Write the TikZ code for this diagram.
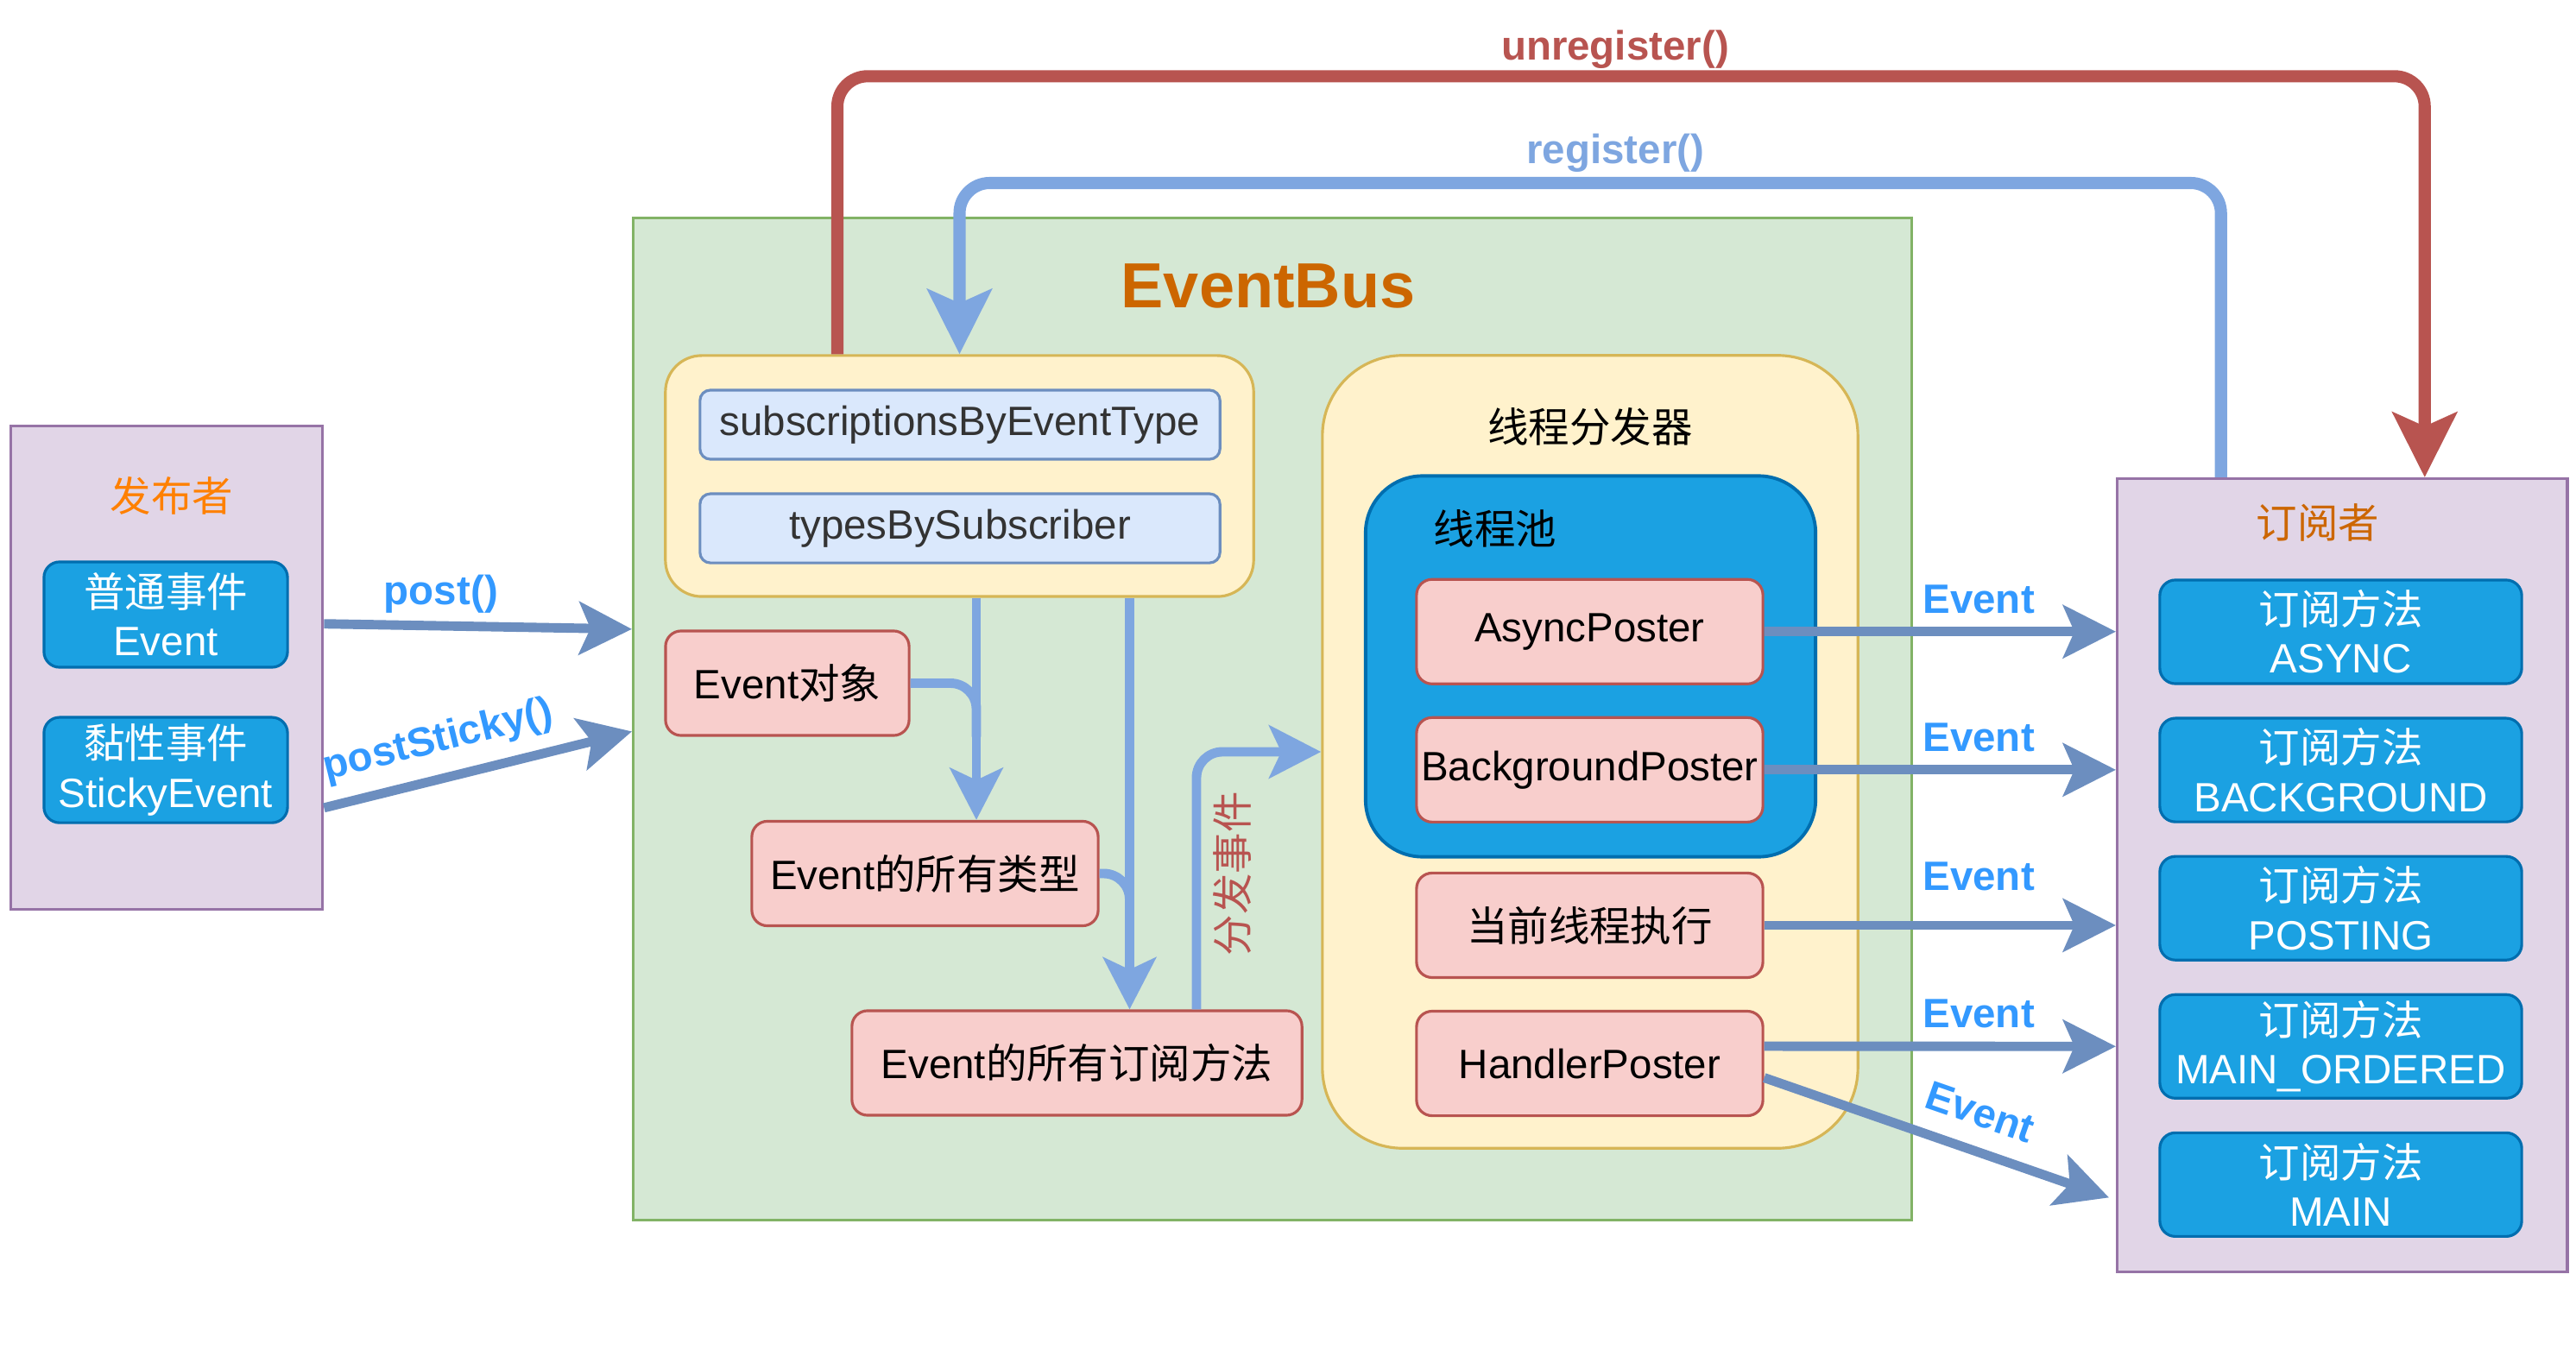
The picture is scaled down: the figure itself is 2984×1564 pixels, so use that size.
\documentclass[tikz,border=0pt]{standalone}
\usepackage{fontspec}
\setmainfont{Liberation Sans}
\newfontfamily\cjk{Noto Sans CJK SC}
\usepackage{tikz}
\usetikzlibrary{positioning, arrows.meta, calc}
\definecolor{pubfill}{HTML}{E1D5E7}
\definecolor{publine}{HTML}{9673A6}
\definecolor{bluefill}{HTML}{1BA1E2}
\definecolor{blueline}{HTML}{006EAF}
\definecolor{busfill}{HTML}{D5E8D4}
\definecolor{busline}{HTML}{82B366}
\definecolor{yelfill}{HTML}{FFF2CC}
\definecolor{yelline}{HTML}{D6B656}
\definecolor{mapfill}{HTML}{DAE8FC}
\definecolor{mapline}{HTML}{6C8EBF}
\definecolor{redfill}{HTML}{F8CECC}
\definecolor{redline}{HTML}{B85450}
\definecolor{arrowblue}{HTML}{6C8EBF}
\definecolor{lightblue}{HTML}{7EA6E0}
\definecolor{labelblue}{HTML}{3399FF}
\definecolor{darkorange}{HTML}{CC6600}
\definecolor{brightorange}{HTML}{FF8000}
\newcommand{\zh}[1]{{\cjk #1}}
\tikzset{
every node/.style={font=\fontsize{13.5}{16}\selectfont}, % one text size for the whole picture
}

\begin{document}
\begin{tikzpicture}[x=0.01cm, y=-0.01cm, node distance=1.6cm,
    frame/.style = {draw=publine, fill=pubfill, line width=0.9pt, anchor=north west, inner sep=0pt},
    box/.style = {draw=redline, fill=redfill, line width=0.9pt, rounded corners=0.18cm, minimum width=4.01cm, minimum height=1.21cm, inner sep=0pt},
    method/.style = {draw=blueline, fill=bluefill, line width=0.9pt, rounded corners=0.18cm, text=white, align=center, minimum width=4.19cm, minimum height=1.2cm, inner sep=0pt},
    map/.style = {draw=mapline, fill=mapfill, line width=0.9pt, rounded corners=0.12cm, text=black!80, minimum width=6.02cm, minimum height=0.8cm, inner sep=0pt},
    heading/.style = {inner sep=0pt},
    flow/.style = {draw=arrowblue, line width=3.1pt, -{Stealth[length=6.1mm, width=6.1mm, inset=1.3mm]}},
    inarrow/.style = {draw=lightblue, line width=3.1pt, rounded corners=0.3cm, -{Stealth[length=6mm, width=6.1mm, inset=1.4mm]}},
    call/.style = {line width=4pt, rounded corners=0.35cm, -{Stealth[length=7.5mm, width=7.4mm, inset=1.6mm]}},
    lbl/.style = {font=\fontsize{13.5}{16}\selectfont\bfseries, text=labelblue, inner sep=0pt}]
    \useasboundingbox (0,0) rectangle (2984,1564);

    % publisher
    \node[frame, minimum width=3.61cm, minimum height=5.6cm] (pub) at (11,492) {};
    \node[heading, text=brightorange] at (199,574) {\zh{发布者}};
    \node[method, minimum width=2.82cm, minimum height=1.22cm] (e1) at (192,712) {\zh{普通事件}\\Event};
    \node[method, minimum width=2.82cm, minimum height=1.22cm, node distance=1.8cm, below of=e1] (e2) {\zh{黏性事件}\\StickyEvent};

    % EventBus
    \node[frame, draw=busline, fill=busfill, minimum width=14.8cm, minimum height=11.6cm] (bus) at (732,251) {};
    \node[heading, text=darkorange, font=\fontsize{21}{25}\selectfont\bfseries] at (1469,331) {EventBus};
    \node[draw=yelline, fill=yelfill, line width=0.9pt, rounded corners=0.42cm, minimum width=6.81cm, minimum height=2.79cm] (maps) at (1111.5,551.5) {};
    \node[map] (m1) at (1112,492) {subscriptionsByEventType};
    \node[map, node distance=1.2cm, below of=m1] (m2) {typesBySubscriber};
    \node[box, minimum width=2.82cm] (obj) at (912,791.5) {Event\zh{对象}};
    \node[box] (types) at (1071.5,1012) {Event\zh{的所有类型}};
    \node[box, minimum width=5.21cm] (subs) at (1247.5,1231.5) {Event\zh{的所有订阅方法}};

    % thread dispatcher
    \node[draw=yelline, fill=yelfill, line width=0.9pt, rounded corners=0.93cm, minimum width=6.2cm, minimum height=9.18cm] (disp) at (1842,871) {};
    \node[heading] at (1842,494) {\zh{线程分发器}};
    \node[draw=blueline, fill=bluefill, line width=1.1pt, rounded corners=0.66cm, minimum width=5.21cm, minimum height=4.41cm] (pool) at (1842.5,772) {};
    \node[heading] at (1732,612) {\zh{线程池}};
    \node[box] (p1) at (1841.5,731.75) {AsyncPoster};
    \node[box, below of=p1] (p2) {BackgroundPoster};
    \node[box, node distance=1.8cm, below of=p2] (p3) {\zh{当前线程执行}};
    \node[box, below of=p3] (p4) {HandlerPoster};

    % subscriber
    \node[frame, minimum width=5.21cm, minimum height=9.18cm] (sub) at (2451,553) {};
    \node[heading, text=darkorange] at (2685,605) {\zh{订阅者}};
    \node[method] (s1) at (2711.5,732) {\zh{订阅方法}\\ASYNC};
    \node[method, below of=s1] (s2) {\zh{订阅方法}\\BACKGROUND};
    \node[method, below of=s2] (s3) {\zh{订阅方法}\\POSTING};
    \node[method, below of=s3] (s4) {\zh{订阅方法}\\MAIN\_ORDERED};
    \node[method, below of=s4] (s5) {\zh{订阅方法}\\MAIN};

    % post into the bus
    \draw[flow] ([yshift=5.1mm]pub.east) -- node[lbl, pos=0.38, above=2.5pt] {post()} ([yshift=10.4mm]bus.west);
    \draw[flow] ([yshift=-16.2mm]pub.east) -- node[lbl, sloped, pos=0.4, above=4.4pt] {postSticky()} ([yshift=-1.45mm]bus.west);

    % inside the bus
    \coordinate (a1) at ($(maps.south)+(19.5,0)$);
    \coordinate (a2) at ($(maps.south)+(197,0)$);
    \coordinate (a3) at ($(subs.north)+(138.5,0)$);
    \draw[inarrow] (a1) -- (a1 |- types.north);
    \draw[inarrow, -] (obj.east) -| (a1 |- obj.south);
    \draw[inarrow] (a2) -- (a2 |- subs.north);
    \draw[inarrow, -] (types.east) -| (a2 |- types.south);
    \draw[inarrow] (a3) |- node[sloped, pos=0.263, below=0.5pt, text=redline] {\zh{分发事件}} (disp.west);

    % posters to subscriber methods
    \draw[flow] (p1.east) -- node[lbl, pos=0.61, above=4.4pt] {Event} (p1.east -| sub.west);
    \draw[flow] (p2.east) -- node[lbl, pos=0.61, above=4.4pt] {Event} (p2.east -| sub.west);
    \draw[flow] (p3.east) -- node[lbl, pos=0.61, above=9.8pt] {Event} (p3.east -| sub.west);
    \draw[flow] ([yshift=2mm]p4.east) -- node[lbl, pos=0.61, above=4.4pt] {Event} (s4 -| sub.west);
    \draw[flow] ([yshift=-1.65mm]p4.east) -- node[lbl, sloped, pos=0.59, above=6.4pt] {Event} ($(s5 -| sub.west)+(-8,15)$);

    % register / unregister
    \draw[call, draw=redline] ($(maps.north)+(-141.5,0)$) -- ++(0,-322) -| node[lbl, text=redline, pos=0.245, above=0.5pt] {unregister()} ($(sub.north)+(95.5,0)$);
    \draw[call, draw=lightblue] ($(sub.north)+(-140.5,0)$) -- ++(0,-341) -| node[lbl, text=lightblue, pos=0.24, above=1.5pt] {register()} (maps.north);
\end{tikzpicture}
\end{document}
